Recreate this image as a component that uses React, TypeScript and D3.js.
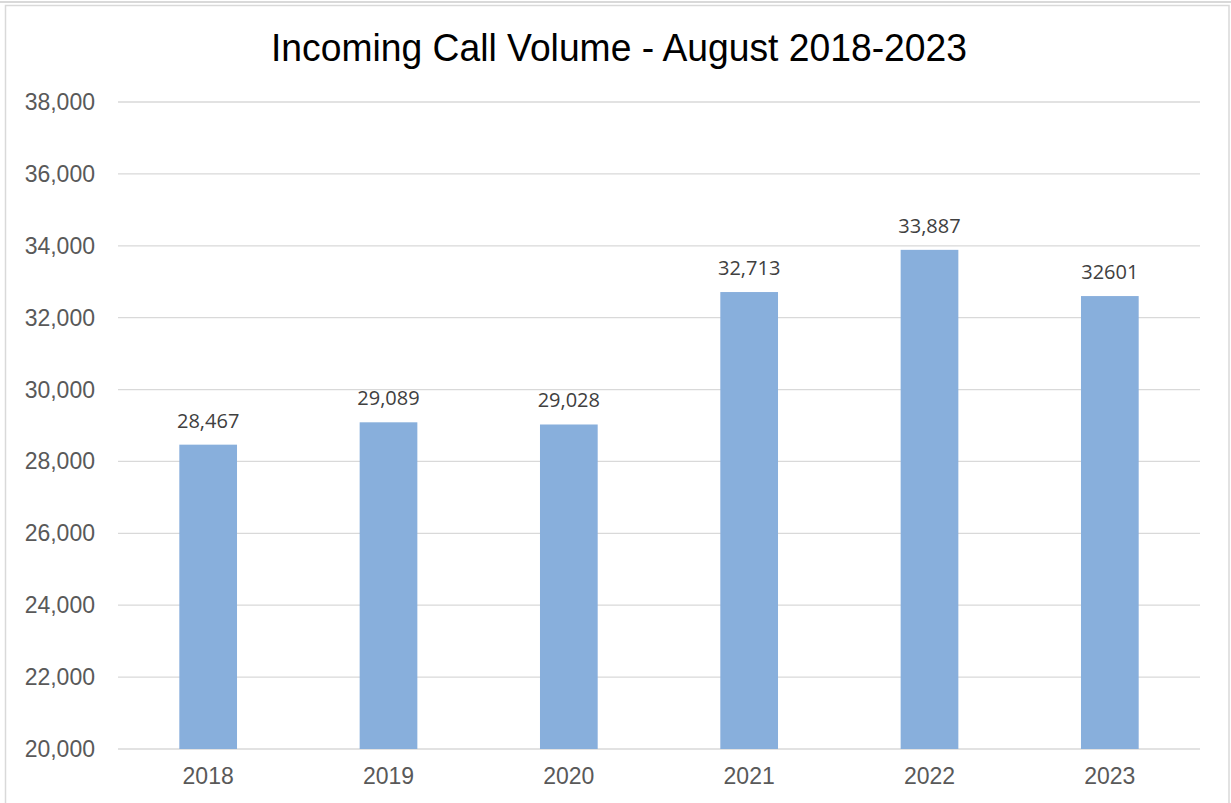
import React from "react";
import * as d3 from "d3";

const categories = ["2018", "2019", "2020", "2021", "2022", "2023"];
const values = [28467, 29089, 29028, 32713, 33887, 32601];
const valueLabels = ["28,467", "29,089", "29,028", "32,713", "33,887", "32601"];
const yTicks = [20000, 22000, 24000, 26000, 28000, 30000, 32000, 34000, 36000, 38000];
const title = "Incoming Call Volume - August 2018-2023";

export default function App() {
  const W = 1231, H = 803;
  const x = d3.scaleBand<string>().domain(categories).range([118, 1200]).paddingInner(0.68).paddingOuter(0.34);
  const y = d3.scaleLinear().domain([20000, 38000]).range([749, 102]);
  const fmt = d3.format(",");
  return (
    <svg width={W} height={H} style={{ position: "fixed", left: 0, top: 0 }}>
      <rect x={0} y={0} width={W} height={H} fill="#fff" />
      <line x1={0} x2={W} y1={2} y2={2} stroke="#d9d9d9" strokeWidth={2} />
      <rect x={5.5} y={5.5} width={1223.5} height={H + 10} fill="#fff" stroke="#d9d9d9" strokeWidth={1.5} />
      <text x={619} y={61} textAnchor="middle" fontFamily="Liberation Sans, Arial, sans-serif" fontSize={38} textLength={696} lengthAdjust="spacingAndGlyphs" fill="#000">{title}</text>
      {yTicks.map((t) => (
        <g key={t}>
          <line x1={118} x2={1200} y1={y(t)} y2={y(t)} stroke="#d9d9d9" strokeWidth={1.3} />
          <text x={95} y={y(t) + 8} textAnchor="end" fontFamily="Liberation Sans, Arial, sans-serif" fontSize={23} fill="#595959">{fmt(t)}</text>
        </g>
      ))}
      {categories.map((c, i) => (
        <g key={c}>
          <rect x={x(c)} y={y(values[i])} width={x.bandwidth()} height={y(20000) - y(values[i])} fill="#88AFDC" />
          <text x={(x(c) as number) + x.bandwidth() / 2} y={y(values[i]) - 17} textAnchor="middle" fontFamily="Open Sans, sans-serif" fontSize={20} fill="#404040">{valueLabels[i]}</text>
          <text x={(x(c) as number) + x.bandwidth() / 2} y={784} textAnchor="middle" fontFamily="Liberation Sans, Arial, sans-serif" fontSize={23} fill="#595959">{c}</text>
        </g>
      ))}
    </svg>
  );
}
